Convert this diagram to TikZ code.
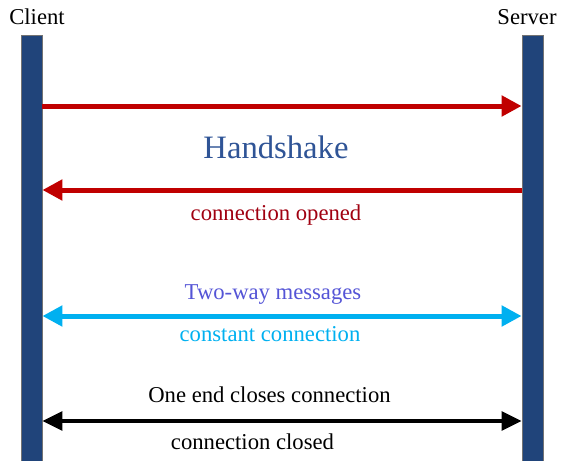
\documentclass[tikz,border=0pt]{standalone}
\usepackage{fontspec}
\setmainfont{Liberation Serif}
\usetikzlibrary{
  arrows.meta,
  positioning
}
\definecolor{barblue}{RGB}{32,68,122}
\definecolor{shakered}{RGB}{192,0,0}
\definecolor{openred}{RGB}{160,0,16}
\definecolor{titleblue}{RGB}{47,84,150}
\definecolor{msgviolet}{RGB}{84,84,214}
\definecolor{linkcyan}{RGB}{0,176,240}
\tikzset{
  lifeline/.style={draw=black!55, fill=barblue, line width=0.6pt, inner sep=0pt,
    minimum width=15.75pt, minimum height=322pt, anchor=north},
  msgtext/.style={anchor=base, inner sep=0pt, font=\fontsize{17}{20}\selectfont},
  fat/.style={line width=3.75pt},
  thin/.style={line width=3pt}
}

\begin{document}
\begin{tikzpicture}[x=0.75pt, y=-0.75pt]
  \useasboundingbox (0,0) rectangle (565,461);

  % the two ends
  \node[lifeline] (client) at (31.5,35) {};
  \node[lifeline] (server) at (532.5,35) {};
  \node[msgtext] (clientname) at (37,24) {Client};
  \node[msgtext] (servername) at (527,24) {Server};

  % handshake
  \draw[fat, shakered, -{Triangle[length=15pt, width=15pt]}] (client.east |- 0,106) -- (server.west |- 0,106);
  \node[anchor=base, inner sep=0pt, text=titleblue, font=\fontsize{24.5}{28}\selectfont] (shake) at (276,158) {Handshake};
  \draw[fat, shakered, {Triangle[length=15pt, width=15pt]}-] (client.east |- 0,190) -- (server.west |- 0,190);
  \node[msgtext, text=openred] (opened) at (276,220) {connection opened};

  % messages
  \node[msgtext, text=msgviolet] (twoway) at (273,299) {Two-way messages};
  \draw[fat, linkcyan, {Triangle[length=15pt, width=15pt]}-{Triangle[length=15pt, width=15pt]}] (client.east |- 0,316) -- (server.west |- 0,316);
  \node[msgtext, text=linkcyan] (constant) at (270,341) {constant connection};

  % closing
  \node[msgtext] (closes) at (269.5,402) {One end closes connection};
  \draw[thin, black, {Triangle[length=15pt, width=14pt]}-{Triangle[length=15pt, width=14pt]}] (client.east |- 0,421) -- (server.west |- 0,421);
  \node[msgtext] (closed) at (252.5,449) {connection closed};
\end{tikzpicture}
\end{document}
